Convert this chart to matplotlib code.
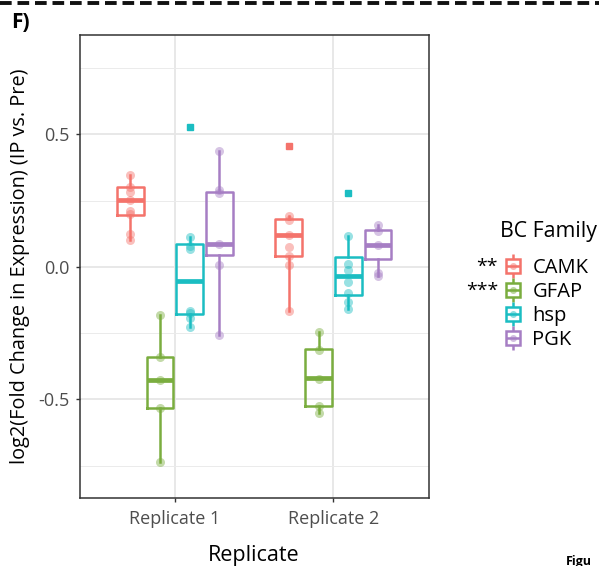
import numpy as np
import matplotlib
matplotlib.use('Agg')
import matplotlib.pyplot as plt
from matplotlib.lines import Line2D
from matplotlib.legend_handler import HandlerTuple

plt.rcParams['font.family'] = ['Open Sans', 'DejaVu Sans']

replicates = ['Replicate 1', 'Replicate 2']
families = ['CAMK', 'GFAP', 'hsp', 'PGK']
stars = ['**', '***', '', '']
colors = ['#F4736B', '#7AAD3F', '#1BBDC2', '#A67EC4']

# individual points per replicate / family
points_r1 = {
    'CAMK': [0.347, 0.302, 0.281, 0.252, 0.211, 0.199, 0.126, 0.100],
    'GFAP': [-0.180, -0.341, -0.426, -0.533, -0.738],
    'hsp': [0.112, 0.078, 0.068, -0.168, -0.174, -0.193, -0.227],
    'PGK': [0.438, 0.292, 0.277, 0.085, 0.009, -0.256],
}
points_r2 = {
    'CAMK': [0.191, 0.176, 0.122, 0.074, 0.040, 0.009, -0.165],
    'GFAP': [-0.244, -0.312, -0.423, -0.523, -0.553],
    'hsp': [0.116, 0.012, -0.010, -0.057, -0.098, -0.132, -0.157],
    'PGK': [0.157, 0.135, 0.082, -0.023, -0.035],
}
# box stats: whislo, q1, median, q3, whishi
box_r1 = {
    'CAMK': [0.100, 0.195, 0.252, 0.302, 0.347],
    'GFAP': [-0.738, -0.533, -0.426, -0.341, -0.180],
    'hsp': [-0.227, -0.178, -0.052, 0.088, 0.112],
    'PGK': [-0.256, 0.046, 0.085, 0.284, 0.438],
}
box_r2 = {
    'CAMK': [-0.165, 0.040, 0.122, 0.179, 0.191],
    'GFAP': [-0.553, -0.523, -0.420, -0.310, -0.244],
    'hsp': [-0.157, -0.107, -0.033, 0.038, 0.116],
    'PGK': [-0.035, 0.028, 0.084, 0.141, 0.157],
}
outliers_r1 = {'CAMK': [], 'GFAP': [], 'hsp': [0.527], 'PGK': []}
outliers_r2 = {'CAMK': [0.458], 'GFAP': [], 'hsp': [0.279], 'PGK': []}

points = [points_r1, points_r2]
boxes = [box_r1, box_r2]
outliers = [outliers_r1, outliers_r2]

fig = plt.figure(figsize=(5.99, 5.66), dpi=100)
ax = fig.add_axes([79.6/599, 1-498/566, 349/599, 463/566])

dodge = 0.75/4
bw = dodge*0.9
for r in range(2):
    for j, fam in enumerate(families):
        pos = r+1 + (j-1.5)*dodge
        c = colors[j]
        wl, q1, md, q3, wh = boxes[r][fam]
        st = [dict(whislo=wl, q1=q1, med=md, q3=q3, whishi=wh, fliers=outliers[r][fam])]
        ax.bxp(st, positions=[pos], widths=bw, showcaps=False,
               boxprops=dict(color=c, lw=1.8),
               whiskerprops=dict(color=c, lw=1.8),
               medianprops=dict(color=c, lw=3.4, solid_capstyle='butt'),
               flierprops=dict(marker='s', ms=5, mfc=c, mec=c))
        ax.plot([pos]*len(points[r][fam]), points[r][fam], 'o', ms=6.5,
                color=c, alpha=0.45, mew=0)

ax.set_xlim(0.4, 2.6)
ax.set_ylim(-0.872, 0.875)
ax.set_xticks([1, 2])
ax.set_xticklabels(replicates, fontsize=13, color='#4d4d4d')
ax.set_yticks([-0.5, 0, 0.5])
ax.set_yticklabels(['-0.5', '0.0', '0.5'], fontsize=13, color='#4d4d4d')
ax.set_yticks([-0.75, -0.25, 0.25, 0.75], minor=True)
ax.grid(True, which='major', color='#e6e6e6', lw=1.3)
ax.grid(True, which='minor', axis='y', color='#ebebeb', lw=0.7)
ax.set_axisbelow(True)
ax.tick_params(which='major', length=3, color='#333333', width=1, pad=4)
ax.tick_params(axis='x', pad=6)
ax.tick_params(which='minor', length=0)
for s in ax.spines.values():
    s.set_color('#333333')
    s.set_linewidth(1.1)
ax.set_xlabel('Replicate', fontsize=15.5, labelpad=12)
ax.set_ylabel('log2(Fold Change in Expression) (IP vs. Pre)', fontsize=14.3, labelpad=6)

# legend: vertical box glyphs
handles = []
for c in colors:
    whisk = Line2D([], [], color=c, marker='|', ms=17, mew=1.8, lw=0)
    box = Line2D([], [], color=c, marker='s', ms=10, mfc='white', mew=1.8, lw=0)
    med = Line2D([], [], color=c, marker='_', ms=10, mew=1.8, lw=0)
    dot = Line2D([], [], color=c, marker='o', ms=5, alpha=0.5, mew=0, lw=0)
    handles.append((whisk, box, med, dot))
leg = fig.legend(handles, families, loc='upper left', bbox_to_anchor=(493/599, 1-248/566),
                 frameon=False, fontsize=14.5,
                 handlelength=1.0, handletextpad=0.45, labelspacing=0.2,
                 borderpad=0,
                 handler_map={tuple: HandlerTuple(ndivide=1, pad=0)})
fig.text(500/599, 1-232/566, 'BC Family', fontsize=15.3, va='center', ha='left')
for k, s in enumerate(stars):
    if s:
        fig.text(498/599, 1-(267 + 23.7*k)/566, s, fontsize=14, ha='right', va='center')

fig.text(11/599, 1-22/566, 'F)', fontsize=15, fontweight='bold', va='center')
fig.text(566/599, 1-561/566, 'Figu', fontsize=9, fontweight='bold', va='center')
fig.add_artist(Line2D([0, 1], [1-3/566, 1-3/566], color='#111111', lw=2.8, ls=(0, (3, 1.5))))

fig.savefig('out.png', dpi=100)
